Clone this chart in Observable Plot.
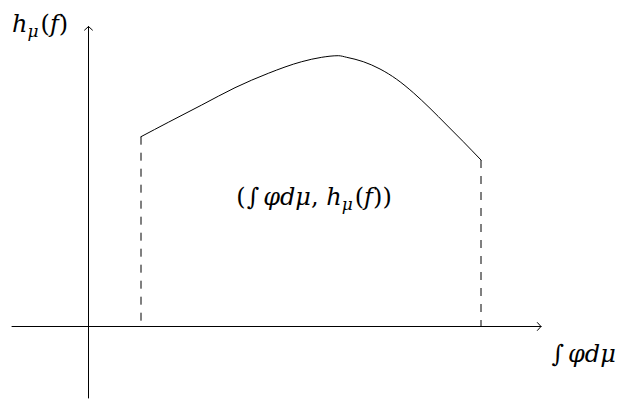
<!DOCTYPE html>
<html>
<head>
<meta charset="utf-8">
<script src="https://cdn.jsdelivr.net/npm/d3@7"></script>
<script src="https://cdn.jsdelivr.net/npm/@observablehq/plot@0.6"></script>
<style>
  html, body { margin: 0; padding: 0; background: #fff; }
</style>
</head>
<body>
<div id="chart"></div>
<script>
// Curve, origin at the axis crossing
const curveX = [52.5, 79.8, 113.2, 146.5, 179.8, 213.2, 233.2, 249.8, 258.2, 274.8, 291.5, 308.2, 324.8, 341.5, 358.2, 374.8, 392.5];
const curveY = [189.8, 204.2, 221.5, 238.8, 253.2, 264.8, 269.2, 270.8, 269.2, 264.8, 257.5, 247.2, 233.8, 218.2, 201.5, 184.8, 166.5];

// Axes extents
const xAxisFrom = -76.5, xAxisTo = 452.5;
const yAxisFrom = -71.5, yAxisTo = 300;

// Labels (underscore marks a subscript)
const labelTexts = ["h_μ(f)", "∫φdμ", "(∫φdμ, h_μ(f))"];
const labelX = [-76.5, 463, 225.5];
const labelY = [294.5, -35, 121.5];
const labelAnchor = ["start", "start", "middle"];

const curve = curveX.map((x, i) => ({x, y: curveY[i]}));
const ends = [curve[0], curve[curve.length - 1]];
const axes = [
  {x1: xAxisFrom, y1: 0, x2: xAxisTo, y2: 0},
  {x1: 0, y1: yAxisFrom, x2: 0, y2: yAxisTo}
];
const labels = labelTexts.map((t, i) => ({t, x: labelX[i], y: labelY[i], a: labelAnchor[i]}));

const font = "'DejaVu Serif', 'Liberation Serif', serif";

const chart = Plot.plot({
  width: 621,
  height: 399,
  margin: 0,
  x: {domain: [-88, 533], range: [0, 621], axis: null},
  y: {domain: [-73, 326], range: [399, 0], axis: null},
  style: {background: "white"},
  marks: [
    Plot.arrow(axes, {x1: "x1", y1: "y1", x2: "x2", y2: "y2", stroke: "black", strokeWidth: 1, headLength: 8, headAngle: 95}),
    Plot.link(ends, {x1: "x", y1: "y", x2: "x", y2: () => 0, stroke: "black", strokeWidth: 1, strokeDasharray: "8,8"}),
    Plot.line(curve, {x: "x", y: "y", curve: "monotone-x", stroke: "black", strokeWidth: 1}),
    ...labels.map(l => Plot.text([l], {x: "x", y: "y", text: "t", textAnchor: l.a, lineAnchor: "bottom", fontSize: 24, fontFamily: font, fill: "black"}))
  ]
});

// Typeset labels: italic letters, upright symbols, subscripts
const NS = "http://www.w3.org/2000/svg";
chart.querySelectorAll("text").forEach(el => {
  const src = el.textContent;
  if (!labelTexts.includes(src)) return;
  el.textContent = "";
  let shift = 0;
  let prev = "";
  for (let i = 0; i < src.length; i++) {
    let ch = src[i];
    let sub = false;
    if (ch === "_") { sub = true; ch = src[++i]; }
    const t = document.createElementNS(NS, "tspan");
    t.textContent = ch;
    if (!"()∫, ".includes(ch)) t.setAttribute("font-style", "italic");
    const want = sub ? 5 : 0;
    if (want !== shift) { t.setAttribute("dy", String(want - shift)); shift = want; }
    if (sub) t.setAttribute("font-size", "17");
    if (ch === "(" && prev && prev !== "(") t.setAttribute("dx", "2");
    if (prev === "∫") t.setAttribute("dx", "4");
    if (prev === "(" && ch === "∫") t.setAttribute("dx", "1");
    el.appendChild(t);
    prev = ch;
  }
});

document.getElementById("chart").appendChild(chart);
</script>
</body>
</html>
